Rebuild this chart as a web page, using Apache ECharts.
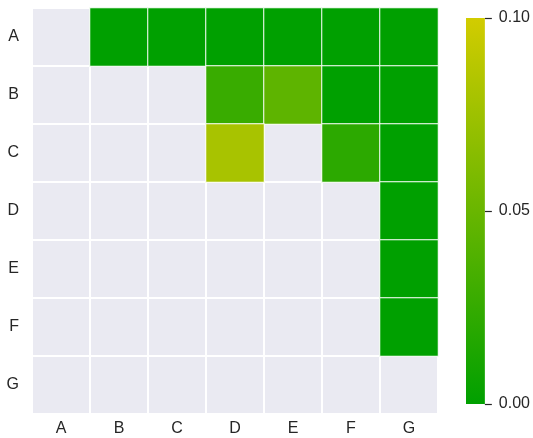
<!DOCTYPE html>
<html>
<head>
<meta charset="utf-8">
<script src="https://cdn.jsdelivr.net/npm/echarts@6/dist/echarts.min.js"></script>
<style>
  html, body { margin: 0; padding: 0; background: #fff; }
  #chart { width: 533px; height: 438px; }
</style>
</head>
<body>
<div id="chart"></div>
<script>
const labels = ['A', 'B', 'C', 'D', 'E', 'F', 'G'];
// upper triangle values, null = empty cell
const matrix = [
    [null, 0.0, 0.0, 0.0, 0.0, 0.0, 0.0],
    [null, null, null, 0.027, 0.045, 0.0, 0.0],
    [null, null, null, 0.08, null, 0.021, 0.0],
    [null, null, null, null, null, null, 0.0],
    [null, null, null, null, null, null, 0.0],
    [null, null, null, null, null, null, 0.0],
    [null, null, null, null, null, null, null],
];
const colorMin = 0;
const colorMax = 0.1;
const colorTicks = 0.05;

const textColor = '#262626';
const font = 'Liberation Sans, Arial, sans-serif';

const cells = [];
matrix.forEach((row, r) => {
    row.forEach((v, c) => {
        if (v !== null) cells.push([c, r, v]);
    });
});

const chart = echarts.init(document.getElementById('chart'));
chart.setOption({
    animation: false,
    textStyle: { fontFamily: font },
    grid: [
        {
            left: 32, top: 8, width: 406, height: 406,
            show: true, backgroundColor: '#eaeaf2', borderWidth: 0,
        },
        { left: 466, top: 18, width: 19, height: 386 },
    ],
    xAxis: [
        {
            type: 'category', data: labels, gridIndex: 0,
            axisLine: { show: false }, axisTick: { show: false },
            axisLabel: { color: textColor, fontSize: 16, margin: 7 },
            splitLine: { show: true, lineStyle: { color: '#fff', width: 2 } },
        },
        { type: 'category', data: ['bar'], gridIndex: 1, show: false },
    ],
    yAxis: [
        {
            type: 'category', data: labels, gridIndex: 0, inverse: true,
            axisLine: { show: false }, axisTick: { show: false },
            axisLabel: { color: textColor, fontSize: 16, margin: 13 },
            splitLine: { show: true, lineStyle: { color: '#fff', width: 2 } },
        },
        {
            type: 'value', gridIndex: 1, position: 'right',
            min: colorMin, max: colorMax, interval: colorTicks,
            axisLine: { show: false },
            axisTick: { show: true, length: 7, lineStyle: { color: textColor, width: 1.2 } },
            axisLabel: {
                color: textColor, fontSize: 16, margin: 14,
                formatter: v => v.toFixed(2),
            },
            splitLine: { show: false },
        },
    ],
    visualMap: {
        show: false, min: colorMin, max: colorMax, seriesIndex: 0,
        inRange: { color: ['#00a000', '#d2cc00'] },
    },
    series: [
        {
            type: 'heatmap', data: cells, xAxisIndex: 0, yAxisIndex: 0,
            itemStyle: { borderColor: '#fff', borderWidth: 1 },
            emphasis: { disabled: true },
        },
        {
            type: 'bar', data: [colorMax], xAxisIndex: 1, yAxisIndex: 1,
            barWidth: '100%', silent: true,
            itemStyle: {
                color: new echarts.graphic.LinearGradient(0, 1, 0, 0, [
                    { offset: 0, color: '#00a000' },
                    { offset: 1, color: '#d2cc00' },
                ]),
            },
        },
    ],
});
</script>
</body>
</html>
